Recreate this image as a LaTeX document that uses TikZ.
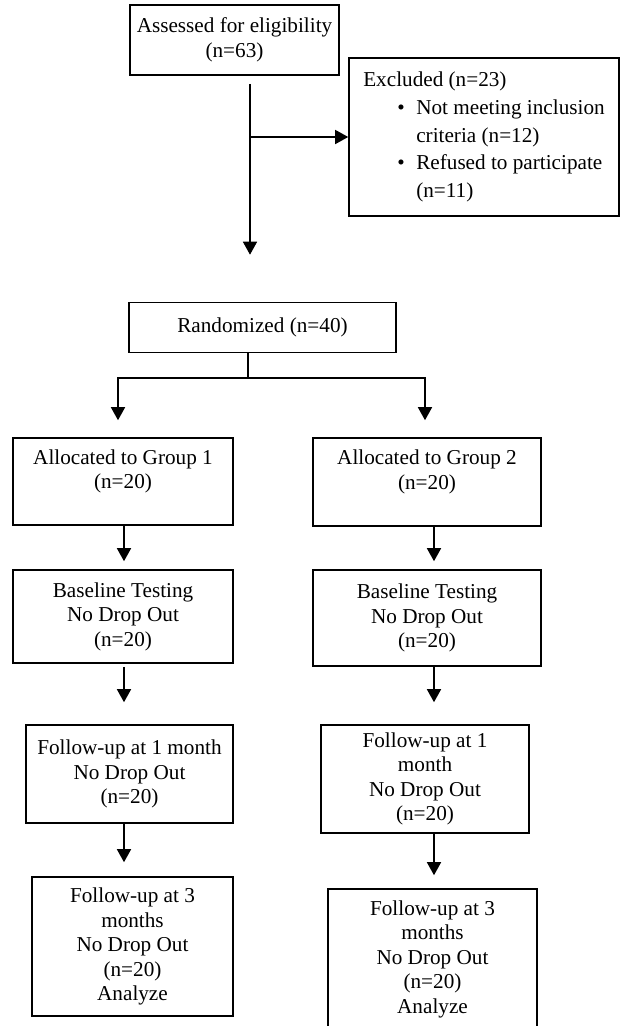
\documentclass[tikz,border=0pt]{standalone}
\usepackage{fontspec}
\setmainfont{Liberation Serif}
\usetikzlibrary{arrows.meta}
\begin{document}
\begin{tikzpicture}[x=1pt,y=-1pt]
\tikzset{BoxStyle/.style={draw,line width=1.6pt,align=center,inner sep=2pt,font=\fontsize{21.2}{24.5}\selectfont},
ArrowStyle/.style={line width=1.5pt,-{Triangle[width=14pt,length=13pt]}}}
\useasboundingbox (0,0) rectangle (624,1026);
\node[BoxStyle,minimum width=209pt,minimum height=70pt] (assess) at (234.5,40) {Assessed for eligibility\\(n=63)};
\node[BoxStyle,align=left,minimum width=270pt,minimum height=158pt,font=\fontsize{21.2}{27.8}\selectfont] (excl) at (484,137)
{Excluded (n=23)\\
\hspace*{34pt}\makebox[19pt][l]{\textbullet}Not meeting inclusion\\
\hspace*{53pt}criteria (n=12)\\
\hspace*{34pt}\makebox[19pt][l]{\textbullet}Refused to participate\\
\hspace*{53pt}(n=11)};
\node[BoxStyle,minimum width=267pt,minimum height=50pt] (rand) at (262.5,327.5) {Randomized (n=40)};
\node[BoxStyle,minimum width=220pt,minimum height=87pt] (alloc1) at (123,481.5) {Allocated to Group 1\\(n=20)\\\mbox{}};
\node[BoxStyle,minimum width=228pt,minimum height=88pt] (alloc2) at (427,482) {Allocated to Group 2\\(n=20)\\\mbox{}};
\node[BoxStyle,minimum width=220pt,minimum height=93pt] (base1) at (123,616.5) {Baseline Testing\\No Drop Out\\(n=20)};
\node[BoxStyle,minimum width=228pt,minimum height=96pt] (base2) at (427,618) {Baseline Testing\\No Drop Out\\(n=20)};
\node[BoxStyle,minimum width=207pt,minimum height=98pt] (fuA1) at (129.5,774) {Follow-up at 1 month\\No Drop Out\\(n=20)};
\node[BoxStyle,minimum width=208pt,minimum height=108pt] (fuB1) at (425,779) {Follow-up at 1\\month\\No Drop Out\\(n=20)};
\node[BoxStyle,minimum width=201pt,minimum height=139pt] (fuA3) at (132.5,946.5) {Follow-up at 3\\months\\No Drop Out\\(n=20)\\Analyze};
\node[BoxStyle,minimum width=209pt,minimum height=140pt] (fuB3) at (432.5,959) {Follow-up at 3\\months\\No Drop Out\\(n=20)\\Analyze};
\coordinate (trunk) at (250,0);
\coordinate (split) at (248,378);
\coordinate (splitL) at (118,378);
\coordinate (splitR) at (425,378);
\coordinate (colL) at (124,0);
\coordinate (colR) at (434,0);
\draw[ArrowStyle,shorten <=8pt,shorten >=47pt] (assess.south -| trunk) -- (rand.north -| trunk);
\draw[ArrowStyle] (excl.west -| trunk) -- (excl.west);
\draw[line width=1.5pt] (rand.south -| split) -- (split);
\draw[ArrowStyle,shorten >=17pt] (split) -| (alloc1.north -| splitL);
\draw[ArrowStyle,shorten >=17pt] (split) -| (alloc2.north -| splitR);
\draw[ArrowStyle,shorten >=8pt] (alloc1.south -| colL) -- (base1.north -| colL);
\draw[ArrowStyle,shorten <=3pt,shorten >=22pt] (base1.south -| colL) -- (fuA1.north -| colL);
\draw[ArrowStyle,shorten >=14pt] (fuA1.south -| colL) -- (fuA3.north -| colL);
\draw[ArrowStyle,shorten >=8pt] (alloc2.south -| colR) -- (base2.north -| colR);
\draw[ArrowStyle,shorten >=22pt] (base2.south -| colR) -- (fuB1.north -| colR);
\draw[ArrowStyle,shorten >=13pt] (fuB1.south -| colR) -- (fuB3.north -| colR);
\end{tikzpicture}
\end{document}
